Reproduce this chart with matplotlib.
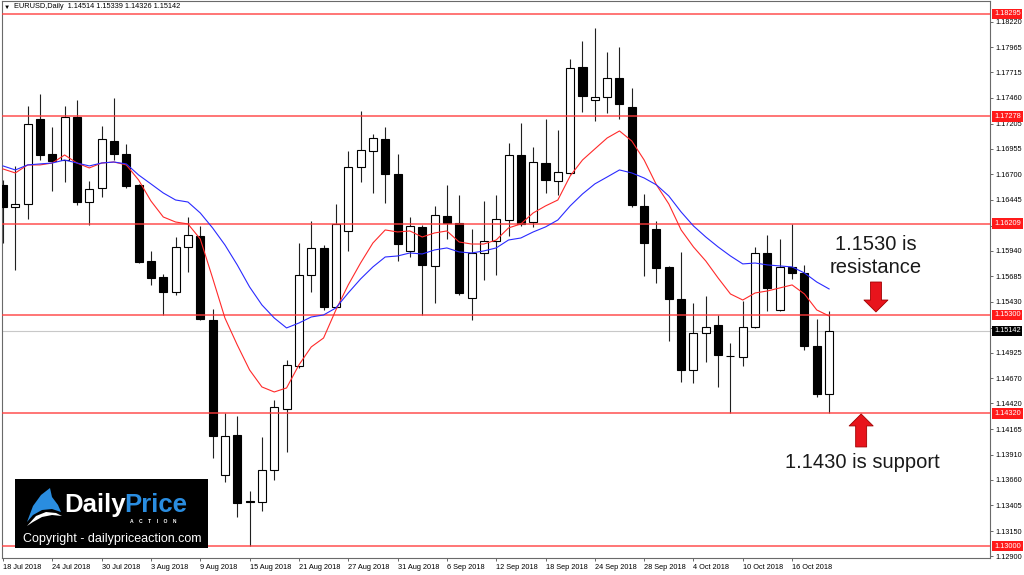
import numpy as np
import pandas as pd
import matplotlib
matplotlib.use('Agg')
import matplotlib.pyplot as plt
from matplotlib.patches import Polygon, Rectangle

plt.rcParams['font.family'] = ['Liberation Sans', 'DejaVu Sans']

# EURUSD daily candles, 18 Jul 2018 - 19 Oct 2018
opens = [1.16594, 1.16375, 1.16405, 1.17250, 1.16902, 1.16842, 1.17270, 1.16424, 1.16564, 1.17031,
         1.16902, 1.16594, 1.15837, 1.15678, 1.15529, 1.15977, 1.16086, 1.15250, 1.13708, 1.14106,
         1.13445, 1.13439, 1.13758, 1.14365, 1.14793, 1.15698, 1.15967, 1.15380, 1.16136, 1.16773,
         1.16932, 1.17051, 1.16703, 1.15937, 1.16176, 1.15788, 1.16285, 1.16215, 1.15469, 1.15917,
         1.16036, 1.16245, 1.16892, 1.16225, 1.16812, 1.16633, 1.16713, 1.17768, 1.17439, 1.17469,
         1.17658, 1.17370, 1.16385, 1.16156, 1.15778, 1.15459, 1.14753, 1.15121, 1.15201, 1.14895,
         1.14882, 1.15181, 1.15917, 1.15350, 1.15778, 1.15718, 1.14992, 1.14514]
highs = [1.16643, 1.16783, 1.17380, 1.17499, 1.17171, 1.17380, 1.17439, 1.16633, 1.17181, 1.17459,
         1.17002, 1.16604, 1.15937, 1.15708, 1.16076, 1.16275, 1.16186, 1.15360, 1.14325, 1.14295,
         1.13549, 1.14086, 1.14454, 1.14852, 1.16016, 1.16235, 1.15997, 1.16405, 1.16932, 1.17330,
         1.17101, 1.17171, 1.16902, 1.16275, 1.16196, 1.16385, 1.16594, 1.16494, 1.16156, 1.16434,
         1.16494, 1.17011, 1.17210, 1.16972, 1.17250, 1.17141, 1.17847, 1.18026, 1.18156, 1.17917,
         1.17967, 1.17559, 1.16504, 1.16235, 1.15788, 1.15927, 1.15419, 1.15489, 1.15300, 1.15021,
         1.15439, 1.15977, 1.16096, 1.16056, 1.16206, 1.15798, 1.15260, 1.15339]
lows = [1.16016, 1.15748, 1.16255, 1.16842, 1.16534, 1.16623, 1.16395, 1.16196, 1.16474, 1.16842,
        1.16564, 1.15817, 1.15599, 1.15300, 1.15499, 1.15728, 1.15250, 1.13877, 1.13638, 1.13290,
        1.13000, 1.13350, 1.13658, 1.13937, 1.14773, 1.15529, 1.15350, 1.15370, 1.15937, 1.16623,
        1.16514, 1.16414, 1.15837, 1.15877, 1.15300, 1.15419, 1.16056, 1.15499, 1.15250, 1.15648,
        1.15698, 1.16086, 1.16186, 1.16176, 1.16514, 1.16494, 1.16703, 1.17320, 1.17230, 1.17310,
        1.17250, 1.16375, 1.15688, 1.15618, 1.15041, 1.14633, 1.14623, 1.14832, 1.14584, 1.14320,
        1.14793, 1.15171, 1.15340, 1.15340, 1.15658, 1.14952, 1.14484, 1.14326]
closes = [1.16375, 1.16405, 1.17201, 1.16892, 1.16832, 1.17270, 1.16424, 1.16554, 1.17051, 1.16902,
          1.16584, 1.15827, 1.15668, 1.15529, 1.15977, 1.16096, 1.15260, 1.14096, 1.14096, 1.13429,
          1.13440, 1.13758, 1.14385, 1.14803, 1.15698, 1.15967, 1.15380, 1.16206, 1.16773, 1.16942,
          1.17061, 1.16703, 1.16006, 1.16186, 1.15798, 1.16295, 1.16215, 1.15519, 1.15917, 1.16036,
          1.16255, 1.16892, 1.16206, 1.16822, 1.16643, 1.16723, 1.17758, 1.17479, 1.17469, 1.17658,
          1.17400, 1.16395, 1.16016, 1.15768, 1.15459, 1.14753, 1.15121, 1.15181, 1.14902, 1.14890,
          1.15181, 1.15917, 1.15569, 1.15778, 1.15718, 1.14992, 1.14514, 1.15142]

# moving averages as drawn on the chart
ma_red = [1.16753, 1.16713, 1.16793, 1.16793, 1.16812, 1.16892, 1.16812, 1.16763, 1.16812, 1.16822,
          1.16793, 1.16643, 1.16434, 1.16275, 1.16225, 1.16206, 1.16056, 1.15668, 1.15270, 1.15002,
          1.14753, 1.14584, 1.14534, 1.14574, 1.14803, 1.14982, 1.15071, 1.15350, 1.15599, 1.15817,
          1.16016, 1.16146, 1.16126, 1.16136, 1.16076, 1.16116, 1.16136, 1.16026, 1.16006, 1.16006,
          1.16046, 1.16166, 1.16206, 1.16315, 1.16385, 1.16444, 1.16683, 1.16842, 1.16952, 1.17061,
          1.17131, 1.17031, 1.16842, 1.16594, 1.16405, 1.16146, 1.15977, 1.15837, 1.15668, 1.15509,
          1.15449, 1.15519, 1.15539, 1.15569, 1.15599, 1.15509, 1.15350, 1.15290]
ma_blue = [1.16783, 1.16743, 1.16793, 1.16803, 1.16812, 1.16842, 1.16812, 1.16783, 1.16812, 1.16822,
           1.16803, 1.16693, 1.16604, 1.16514, 1.16444, 1.16424, 1.16315, 1.16166, 1.15997, 1.15798,
           1.15579, 1.15400, 1.15270, 1.15171, 1.15220, 1.15280, 1.15300, 1.15370, 1.15519, 1.15658,
           1.15778, 1.15877, 1.15887, 1.15917, 1.15907, 1.15947, 1.15967, 1.15927, 1.15917, 1.15937,
           1.15967, 1.16046, 1.16066, 1.16126, 1.16176, 1.16245, 1.16385, 1.16504, 1.16604, 1.16673,
           1.16743, 1.16713, 1.16663, 1.16594, 1.16484, 1.16325, 1.16186, 1.16076, 1.15977, 1.15887,
           1.15808, 1.15817, 1.15798, 1.15788, 1.15778, 1.15718, 1.15628, 1.15559]

levels = [1.18295, 1.17278, 1.16209, 1.15300, 1.14320, 1.13000]
last_price = 1.15142
price_ticks = [1.18220, 1.17965, 1.17715, 1.17460, 1.17205, 1.16955, 1.16700, 1.16445, 1.16190,
               1.15940, 1.15685, 1.15430, 1.15175, 1.14925, 1.14670, 1.14420, 1.14165, 1.13910,
               1.13660, 1.13405, 1.13150, 1.12900]
hidden_ticks = [1.16190, 1.15175]  # covered by the price boxes
dates = pd.bdate_range('2018-07-18', periods=len(opens))

o, h, l, c = (np.array(a) for a in (opens, highs, lows, closes))
idx = np.arange(len(o))
up = c >= o

fig = plt.figure(figsize=(10.24, 5.75), dpi=100)
ax = fig.add_axes([2 / 1024, 17 / 575, 988 / 1024, 557 / 575])

ax.axhline(last_price, color='#c8c8c8', lw=0.8, zorder=1)
for lv in levels:
    ax.axhline(lv, color='#ff3c3c', lw=1.1, alpha=0.9, zorder=5)

ax.vlines(idx, l, h, color='#202020', lw=0.8, zorder=3)
body_h = np.maximum(np.abs(c - o), 0.00002)
ax.bar(idx, body_h, bottom=np.minimum(o, c), width=0.65,
       color=np.where(up, 'white', 'black'), edgecolor='black', linewidth=0.8, zorder=4)

ax.plot(idx, ma_red, color='#ff2a2a', lw=0.8, zorder=6)
ax.plot(idx, ma_blue, color='#2a2aff', lw=0.8, zorder=6)

ax.set_xlim(-0.08, 80.05)
ax.set_ylim(1.12882, 1.18424)

ax.yaxis.tick_right()
ax.set_yticks(price_ticks)
ax.set_yticklabels(['' if t in hidden_ticks else f'{t:.5f}' for t in price_ticks])
xt = idx[::4]
ax.set_xticks(xt)
ax.set_xticklabels([f'{d.day} {d:%b %Y}' for d in dates[::4]], ha='left')
ax.tick_params(axis='both', labelsize=5.3, length=2.5, width=0.6, color='#505050', pad=1.5)
for s in ax.spines.values():
    s.set_color('#6a6a6a')
    s.set_linewidth(0.8)

# price boxes on the right scale
for lv in levels:
    ax.text(1.004, lv, f'{lv:.5f}', transform=ax.get_yaxis_transform(), fontsize=5.3,
            color='white', va='center', ha='left', clip_on=False, zorder=10,
            bbox=dict(boxstyle='square,pad=0.25', fc='#ff1a1a', ec='none'))
ax.text(1.004, last_price, f'{last_price:.5f}', transform=ax.get_yaxis_transform(), fontsize=5.3,
        color='white', va='center', ha='left', clip_on=False, zorder=10,
        bbox=dict(boxstyle='square,pad=0.25', fc='black', ec='none'))

fig.text(4 / 1024, 1 - 7 / 575, '\u25bc', fontsize=4.5, va='center', color='black')
fig.text(14 / 1024, 1 - 7 / 575, 'EURUSD,Daily  1.14514 1.15339 1.14326 1.15142',
         fontsize=5.3, va='center', color='black')

# annotations
ax.text(70.8, 1.15947, '1.1530 is', fontsize=14.5, ha='center', va='baseline', color='#1a1a1a', zorder=8)
ax.text(70.8, 1.15718, 'resistance', fontsize=14.5, ha='center', va='baseline', color='#1a1a1a', zorder=8)
ax.text(69.67, 1.13778, '1.1430 is support', fontsize=14.5, ha='center', va='baseline', color='#1a1a1a', zorder=8)

arrow_style = 'simple,head_length=0.86,head_width=1.73,tail_width=0.79'
ax.annotate('', xy=(70.8, 1.15330), xytext=(70.8, 1.15628),
            arrowprops=dict(arrowstyle=arrow_style, mutation_scale=10, fc='#e8141c',
                            ec='#a00000', lw=0.6, shrinkA=0, shrinkB=0), zorder=8)
ax.annotate('', xy=(69.6, 1.14315), xytext=(69.6, 1.13987),
            arrowprops=dict(arrowstyle=arrow_style, mutation_scale=10, fc='#e8141c',
                            ec='#a00000', lw=0.6, shrinkA=0, shrinkB=0), zorder=8)

# logo box
lax = fig.add_axes([15 / 1024, 27 / 575, 193 / 1024, 69 / 575])
lax.set_axis_off()
lax.set_xlim(15, 208)
lax.set_ylim(548, 479)
lax.add_patch(Rectangle((15, 479), 193, 69, fc='black', ec='none'))
lax.add_patch(Polygon([(27, 522), (33, 506), (41, 495), (50, 488), (52, 497), (58, 505),
                       (61, 512), (52, 509), (42, 510), (33, 515)], closed=True,
                      fc='#2a8de0', ec='none'))
lax.add_patch(Polygon([(27, 526), (36, 516), (46, 512), (56, 513), (62, 516), (52, 515),
                       (42, 517), (33, 522)], closed=True, fc='white', ec='none'))
lax.text(64, 512, 'Daily', fontsize=18.5, fontweight='bold', color='white', va='baseline', ha='left')
lax.text(124, 512, 'Price', fontsize=18.5, fontweight='bold', color='#2a8de0', va='baseline', ha='left')
lax.text(130, 523, 'A    C    T    I    O    N', fontsize=3.6, fontweight='bold', color='white',
         va='baseline', ha='left')
lax.text(23, 542, 'Copyright - dailypriceaction.com', fontsize=9, color='white',
         va='baseline', ha='left')

fig.savefig('out.png', dpi=100)
plt.close()
